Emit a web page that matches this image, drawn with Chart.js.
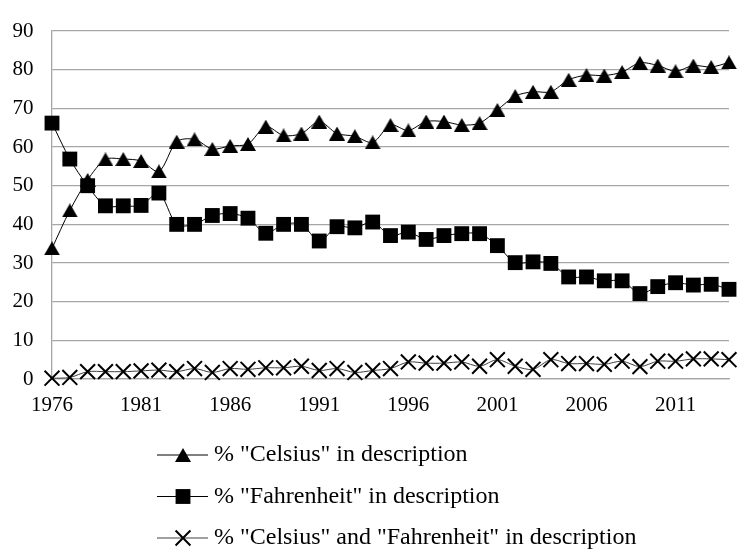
<!DOCTYPE html>
<html>
<head>
<meta charset="utf-8">
<script src="https://cdn.jsdelivr.net/npm/chart.js@4.4.1/dist/chart.umd.min.js"></script>
<style>
  html, body { margin: 0; padding: 0; background: #fff; }
  #wrap { width: 743px; height: 552px; }
</style>
</head>
<body>
<div id="wrap"><canvas id="chart" width="743" height="552"></canvas></div>
<script>
const years = [
  '1976', '1977', '1978', '1979', '1980', '1981', '1982', '1983', '1984', '1985',
  '1986', '1987', '1988', '1989', '1990', '1991', '1992', '1993', '1994', '1995',
  '1996', '1997', '1998', '1999', '2000', '2001', '2002', '2003', '2004', '2005',
  '2006', '2007', '2008', '2009', '2010', '2011', '2012', '2013', '2014'
];

const celsius = [
  33.8, 43.6, 51.5, 56.8, 56.9, 56.4, 53.7, 61.4, 62.0, 59.5,
  60.3, 60.8, 65.3, 63.0, 63.5, 66.6, 63.5, 62.8, 61.2, 65.7,
  64.3, 66.6, 66.6, 65.7, 66.2, 69.6, 73.2, 74.3, 74.3, 77.4,
  78.6, 78.5, 79.4, 81.8, 81.1, 79.6, 81.1, 80.7, 81.9
];

const fahrenheit = [
  66.2, 56.9, 50.0, 44.8, 44.8, 44.9, 48.1, 40.0, 40.0, 42.3,
  42.8, 41.6, 37.7, 40.0, 40.0, 35.7, 39.4, 39.1, 40.6, 37.1,
  38.0, 36.1, 37.1, 37.6, 37.6, 34.5, 30.1, 30.3, 29.9, 26.4,
  26.4, 25.4, 25.4, 22.1, 23.9, 24.9, 24.3, 24.5, 23.2
];

const both = [
  0.2, 0.4, 1.9, 1.9, 1.9, 2.1, 2.3, 1.9, 2.7, 1.7,
  2.7, 2.5, 2.9, 2.9, 3.3, 2.2, 2.7, 1.7, 2.2, 2.7,
  4.4, 4.1, 4.1, 4.4, 3.3, 5.0, 3.3, 2.5, 5.0, 4.0,
  4.0, 3.8, 4.6, 3.2, 4.6, 4.6, 5.2, 5.2, 5.0
];

const seriesNames = [
  '% "Celsius" in description',
  '% "Fahrenheit" in description',
  '% "Celsius" and "Fahrenheit" in description'
];

const serif = '"Liberation Serif", "Times New Roman", serif';
const gridGray = '#a6a6a6';

// triangle marker centred on its box, the way Excel draws it
const triangle = document.createElement('canvas');
triangle.width = 16;
triangle.height = 14;
(() => {
  const t = triangle.getContext('2d');
  t.fillStyle = '#000';
  t.beginPath();
  t.moveTo(8, 0);
  t.lineTo(16, 14);
  t.lineTo(0, 14);
  t.closePath();
  t.fill();
})();

// legend stacked in rows under the plot, like the original
const stackedLegend = {
  id: 'stackedLegend',
  afterDraw(chart) {
    const ctx = chart.ctx;
    const top = chart.height - 97;
    ctx.save();
    chart.data.datasets.forEach((ds, i) => {
      const y = top + i * 41.5;
      ctx.strokeStyle = ds.borderColor;
      ctx.lineWidth = 1;
      ctx.beginPath();
      ctx.moveTo(157, y);
      ctx.lineTo(208, y);
      ctx.stroke();

      ctx.fillStyle = ds.pointBackgroundColor;
      ctx.strokeStyle = ds.pointBorderColor;
      ctx.lineWidth = ds.pointBorderWidth;
      Chart.helpers.drawPoint(ctx, {
        pointStyle: ds.pointStyle,
        radius: ds.pointRadius,
        rotation: 0,
        borderWidth: ds.pointBorderWidth
      }, 183, y);

      ctx.fillStyle = '#000';
      ctx.font = '24px ' + serif;
      ctx.textBaseline = 'middle';
      ctx.textAlign = 'left';
      ctx.fillText(ds.label, 214, y);
    });
    ctx.restore();
  }
};

const ctx = document.getElementById('chart').getContext('2d');
new Chart(ctx, {
  type: 'line',
  data: {
    labels: years,
    datasets: [
      {
        label: seriesNames[0],
        data: celsius,
        borderColor: '#000',
        borderWidth: 1,
        tension: 0.3,
        clip: false,
        pointStyle: triangle,
        pointRadius: 8,
        pointBackgroundColor: '#000',
        pointBorderColor: '#000',
        pointBorderWidth: 0
      },
      {
        label: seriesNames[1],
        data: fahrenheit,
        borderColor: '#000',
        borderWidth: 1,
        tension: 0.3,
        clip: false,
        pointStyle: 'rect',
        pointRadius: 10.5,
        pointBackgroundColor: '#000',
        pointBorderColor: '#000',
        pointBorderWidth: 0
      },
      {
        label: seriesNames[2],
        data: both,
        borderColor: '#404040',
        borderWidth: 1,
        tension: 0.3,
        clip: false,
        pointStyle: 'crossRot',
        pointRadius: 10.5,
        pointBackgroundColor: '#000',
        pointBorderColor: '#000',
        pointBorderWidth: 2
      }
    ]
  },
  options: {
    responsive: false,
    animation: false,
    layout: {
      padding: { left: 0, right: 5, top: 17, bottom: 133 }
    },
    scales: {
      x: {
        offset: false,
        grid: { display: false, drawTicks: false },
        border: { display: true, color: gridGray, width: 1.3 },
        afterFit(scale) { scale.height = 40; },
        ticks: {
          autoSkip: false,
          maxRotation: 0,
          padding: 14,
          color: '#000',
          font: { family: serif, size: 21 },
          callback: function(value, index) {
            return index % 5 === 0 ? this.getLabelForValue(value) : '';
          }
        }
      },
      y: {
        min: 0,
        max: 90,
        grid: { color: gridGray, lineWidth: 1.3, drawTicks: false },
        border: { display: true, color: gridGray, width: 1.3 },
        afterFit(scale) { scale.width = 52; },
        ticks: {
          stepSize: 10,
          padding: 18.5,
          color: '#000',
          font: { family: serif, size: 21 }
        }
      }
    },
    plugins: {
      legend: { display: false },
      tooltip: { enabled: false }
    }
  },
  plugins: [stackedLegend]
});
</script>
</body>
</html>
